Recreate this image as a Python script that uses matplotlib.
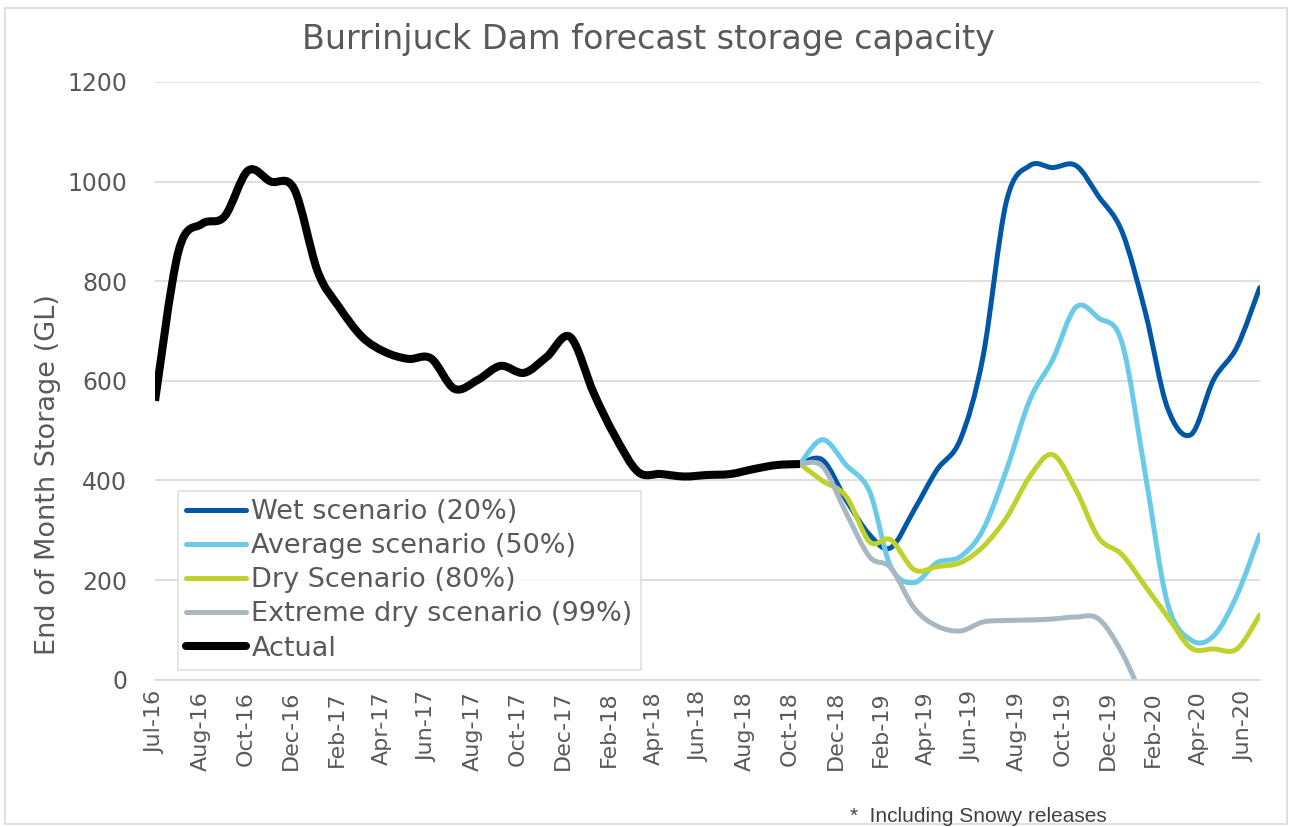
import numpy as np
import pandas as pd
import matplotlib
matplotlib.use("Agg")
import matplotlib.pyplot as plt
import matplotlib.dates as mdates
from matplotlib.path import Path
from matplotlib.patches import PathPatch, Rectangle
from matplotlib.lines import Line2D

# monthly storage (GL), Jul-16 .. Jul-20
months = pd.date_range("2016-07-01", "2020-07-01", freq="MS")

actual = [560, 860, 915, 930, 1022, 1000, 985, 820, 749, 688, 658, 644, 645,
          584, 602, 630, 616, 648, 688, 576, 490, 417, 413, 408, 411, 413,
          423, 431, 433]

# forecasts start at Nov-18 (last actual value)
wet = [433, 441, 361, 291, 265, 341, 421, 482, 648, 960, 1032, 1028, 1032,
       970, 899, 736, 546, 492, 602, 668, 787]
average = [433, 482, 431, 378, 227, 195, 235, 247, 301, 421, 562, 642, 748,
           726, 676, 410, 154, 80, 88, 170, 291]
dry = [433, 399, 368, 277, 281, 221, 227, 235, 267, 325, 408, 452, 381,
       285, 251, 187, 127, 64, 62, 62, 130]
extreme = [433, 428, 335, 247, 225, 144, 108, 98, 116, 119, 120, 122, 126,
           122, 54, -50]

series = [
    ("Wet scenario (20%)", wet, "#0057A8", 3.6),
    ("Average scenario (50%)", average, "#69CBE8", 3.6),
    ("Dry Scenario (80%)", dry, "#BFD22B", 3.6),
    ("Extreme dry scenario (99%)", extreme, "#A8B8C2", 3.6),
]

grey_txt = "#595959"


def smooth_path(x, y):
    # excel style smoothed line (catmull-rom as cubic bezier)
    x = np.asarray(x, float)
    y = np.asarray(y, float)
    n = len(x)
    verts = [(x[0], y[0])]
    codes = [Path.MOVETO]
    for i in range(n - 1):
        a = max(i - 1, 0)
        b = min(i + 2, n - 1)
        c1 = (x[i] + (x[i + 1] - x[a]) / 6, y[i] + (y[i + 1] - y[a]) / 6)
        c2 = (x[i + 1] - (x[b] - x[i]) / 6, y[i + 1] - (y[b] - y[i]) / 6)
        verts += [c1, c2, (x[i + 1], y[i + 1])]
        codes += [Path.CURVE4] * 3
    return Path(verts, codes)


fig = plt.figure(figsize=(12.92, 8.27), dpi=100)
ax = fig.add_axes([0.120, 0.178, 0.855, 0.723])

xnum = mdates.date2num(months)
start = len(actual) - 1

handles = []
for label, vals, color, lw in series:
    xs = xnum[start:start + len(vals)]
    ax.add_patch(PathPatch(smooth_path(xs, vals), fill=False, edgecolor=color,
                           lw=lw, capstyle="round", joinstyle="round"))
    handles.append(Line2D([], [], color=color, lw=lw, solid_capstyle="round",
                          label=label))

ax.add_patch(PathPatch(smooth_path(xnum[:len(actual)], actual), fill=False,
                       edgecolor="black", lw=5.8, capstyle="butt",
                       joinstyle="round"))
handles.append(Line2D([], [], color="black", lw=5.8, solid_capstyle="round",
                      label="Actual"))

ax.set_xlim(xnum[0], xnum[-1])
ax.set_ylim(0, 1200)
ax.set_yticks(np.arange(0, 1201, 200))
ticks = pd.date_range("2016-07-01", periods=25, freq="60D")
ax.set_xticks(mdates.date2num(ticks))
ax.xaxis.set_major_formatter(mdates.DateFormatter("%b-%y"))
plt.setp(ax.get_xticklabels(), rotation=90)

ax.grid(axis="y", color="#D9D9D9", lw=1.2)
ax.set_axisbelow(True)
for s in ["top", "right", "left"]:
    ax.spines[s].set_visible(False)
ax.spines["bottom"].set_color("#D9D9D9")
ax.spines["bottom"].set_linewidth(1.2)
ax.tick_params(axis="both", length=0, colors=grey_txt, labelsize=16)
ax.tick_params(axis="y", labelsize=17, pad=20)
ax.tick_params(axis="x", pad=8)

ax.set_ylabel("End of Month Storage (GL)", fontsize=19.5, color=grey_txt)
ax.yaxis.set_label_coords(-0.085, 0.343)
fig.text(0.502, 0.952, "Burrinjuck Dam forecast storage capacity",
         ha="center", va="center", fontsize=24, color=grey_txt)

leg = ax.legend(handles=handles, loc="lower left",
                bbox_to_anchor=(0.021, 0.017), fontsize=19.5,
                frameon=True, fancybox=False, edgecolor="#D9D9D9",
                handlelength=2.2, handletextpad=0.2, labelspacing=0.3,
                borderpad=0.3, borderaxespad=0)
leg.get_frame().set_linewidth(1.2)
for t in leg.get_texts():
    t.set_color(grey_txt)

fig.text(0.757, 0.013, "*  Including Snowy releases", ha="center",
         va="center", fontsize=15, color="#404040", family="Liberation Sans")

fig.patches.append(Rectangle((0.004, 0.004), 0.992, 0.986,
                             transform=fig.transFigure, fill=False,
                             edgecolor="#D9D9D9", lw=1.2))

fig.savefig("out.png", dpi=100)
